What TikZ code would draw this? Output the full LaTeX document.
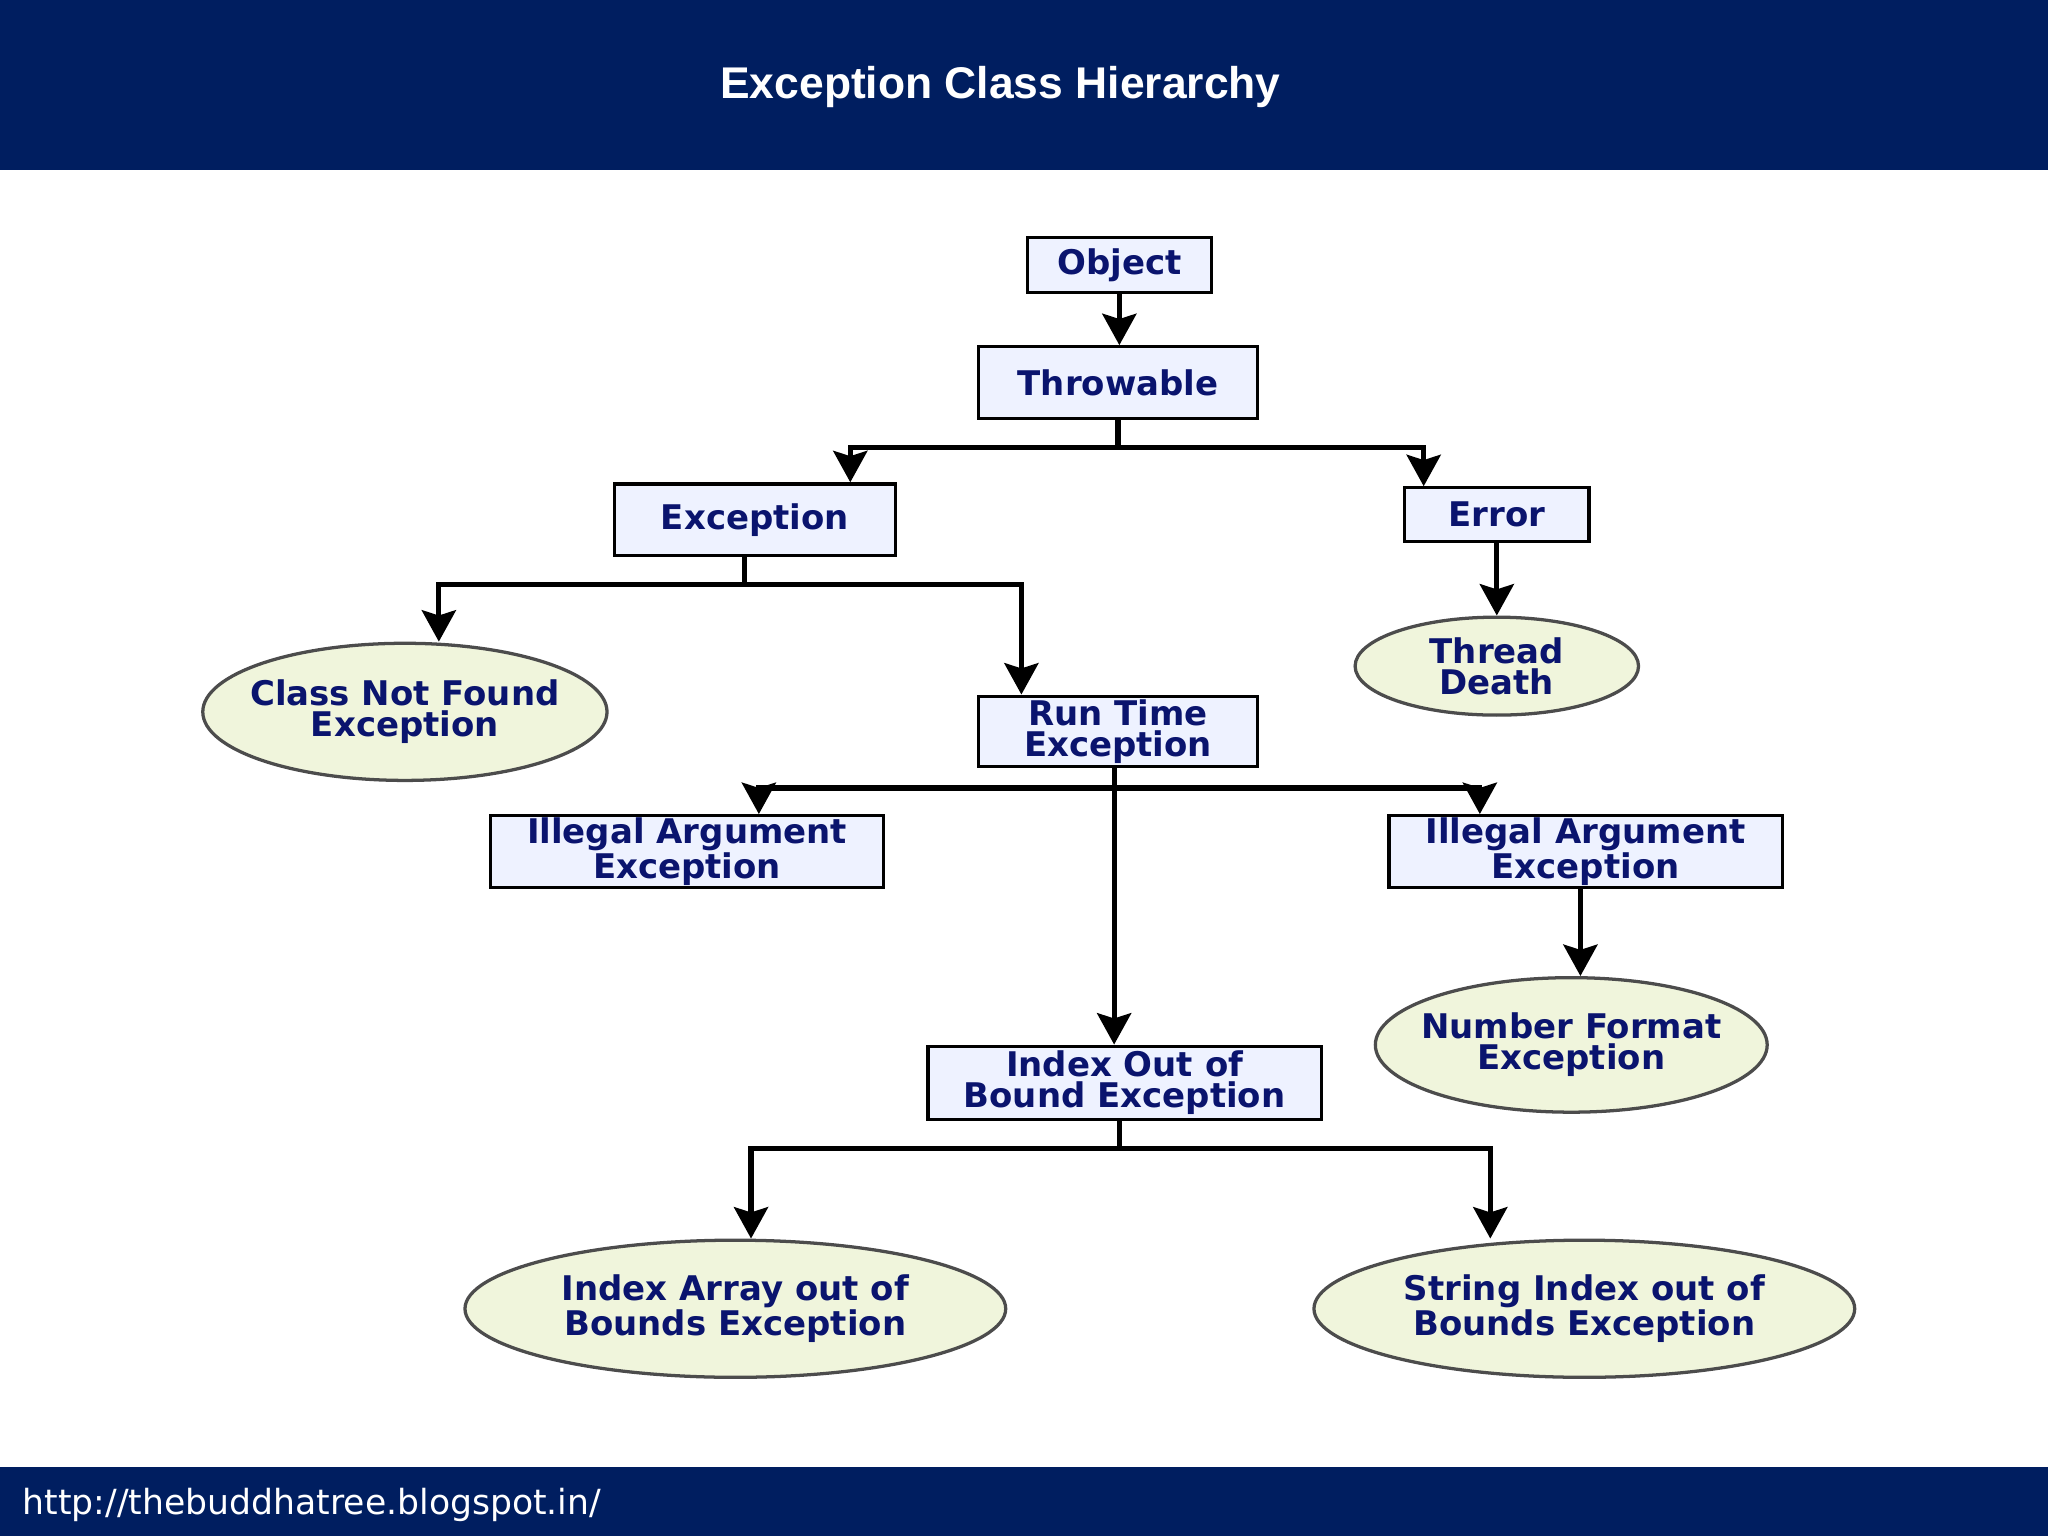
\documentclass[tikz,border=0pt]{standalone}
\usepackage{fontspec}
\setmainfont{DejaVu Sans}
\newfontfamily\titlefont{Liberation Sans}
\usetikzlibrary{arrows.meta,shapes.geometric}
\definecolor{navy}{RGB}{0,30,96}
\definecolor{ink}{RGB}{10,20,110}
\definecolor{boxfill}{RGB}{238,242,255}
\definecolor{ovalfill}{RGB}{240,245,220}
\tikzset{
  cls/.style={draw=black,line width=2.5pt,fill=boxfill,inner sep=0pt,
    text=ink,font=\bfseries\fontsize{26}{24}\selectfont,align=center},
  leaf/.style={ellipse,draw=black!70,line width=2.5pt,fill=ovalfill,inner sep=-9pt,
    text=ink,font=\bfseries\fontsize{26}{24}\selectfont,align=center},
  arr/.style={line width=4pt,-{Stealth[length=24pt,width=26pt,inset=4pt]}}
}
\begin{document}
\begin{tikzpicture}[x=1pt,y=1pt,yscale=-1]
\useasboundingbox (0,0) rectangle (1568,1176);
% bands
\fill[navy] (0,0) rectangle (1568,130);
\fill[navy] (0,1123) rectangle (1568,1176);
\node[text=white,font=\titlefont\bfseries\fontsize{34}{40}\selectfont] (title) at (766,67) {Exception Class Hierarchy};
\node[text=white,anchor=west,font=\fontsize{26.5}{32}\selectfont] (url) at (14,1152) {http://thebuddhatree.blogspot.in/};

% classes
\node[cls,minimum width=141,minimum height=42] (object) at (857,203) {Object};
\node[cls,minimum width=214,minimum height=55] (throwable) at (856,293) {Throwable};
\node[cls,minimum width=215,minimum height=55] (exception) at (578,398) {Exception};
\node[cls,minimum width=141,minimum height=41] (error) at (1146,394) {Error};
\node[leaf,minimum width=302,minimum height=105] (notfound) at (310,545) {Class Not Found\\Exception};
\node[leaf,minimum width=217,minimum height=75] (death) at (1146,510) {Thread\\Death};
\node[cls,minimum width=214,minimum height=54] (runtime) at (856,560) {Run Time\\Exception};
\node[cls,minimum width=301,minimum height=55] (illegalA) at (526,652) {Illegal Argument\\Exception};
\node[cls,minimum width=301,minimum height=55] (illegalB) at (1214,652) {Illegal Argument\\Exception};
\node[leaf,minimum width=300,minimum height=103] (numfmt) at (1203,800) {Number Format\\Exception};
\node[cls,minimum width=301,minimum height=56] (bound) at (861,829) {Index Out of\\Bound Exception};
\node[leaf,minimum width=414,minimum height=105] (arrayidx) at (563,1002) {Index Array out of\\Bounds Exception};
\node[leaf,minimum width=414,minimum height=105] (stringidx) at (1213,1002) {String Index out of\\Bounds Exception};

% connectors
\draw[arr] (object) -- (object |- throwable.north);
\draw[arr] (throwable.south) -- ++(0,21) -| ([xshift=73pt]exception.north);
\draw[arr] (throwable.south) -- ++(0,21) -| ([xshift=-56pt]error.north);
\draw[arr] ([xshift=-8pt]exception.south) -- ++(0,21) -| ([xshift=26pt]notfound.north);
\draw[arr] ([xshift=-8pt]exception.south) -- ++(0,21) -| ([xshift=-74pt]runtime.north);
\draw[arr] (error) -- (error |- death.north);
\draw[arr] ([xshift=-3pt]runtime.south) -- ++(0,15) -| ([xshift=55pt]illegalA.north);
\draw[arr] ([xshift=-3pt]runtime.south) -- ++(0,15) -| ([xshift=-81pt]illegalB.north);
\draw[arr] ([xshift=-3pt]runtime.south) -- ([xshift=-8pt]bound.north);
\draw[arr] ([xshift=-4pt]illegalB.south) -- ([xshift=-4pt]illegalB.south |- numfmt.north);
\draw[arr] ([xshift=-4pt]bound.south) -- ++(0,21) -| ([xshift=12pt]arrayidx.north);
\draw[arr] ([xshift=-4pt]bound.south) -- ++(0,21) -| ([xshift=-72pt]stringidx.north);
\end{tikzpicture}
\end{document}
